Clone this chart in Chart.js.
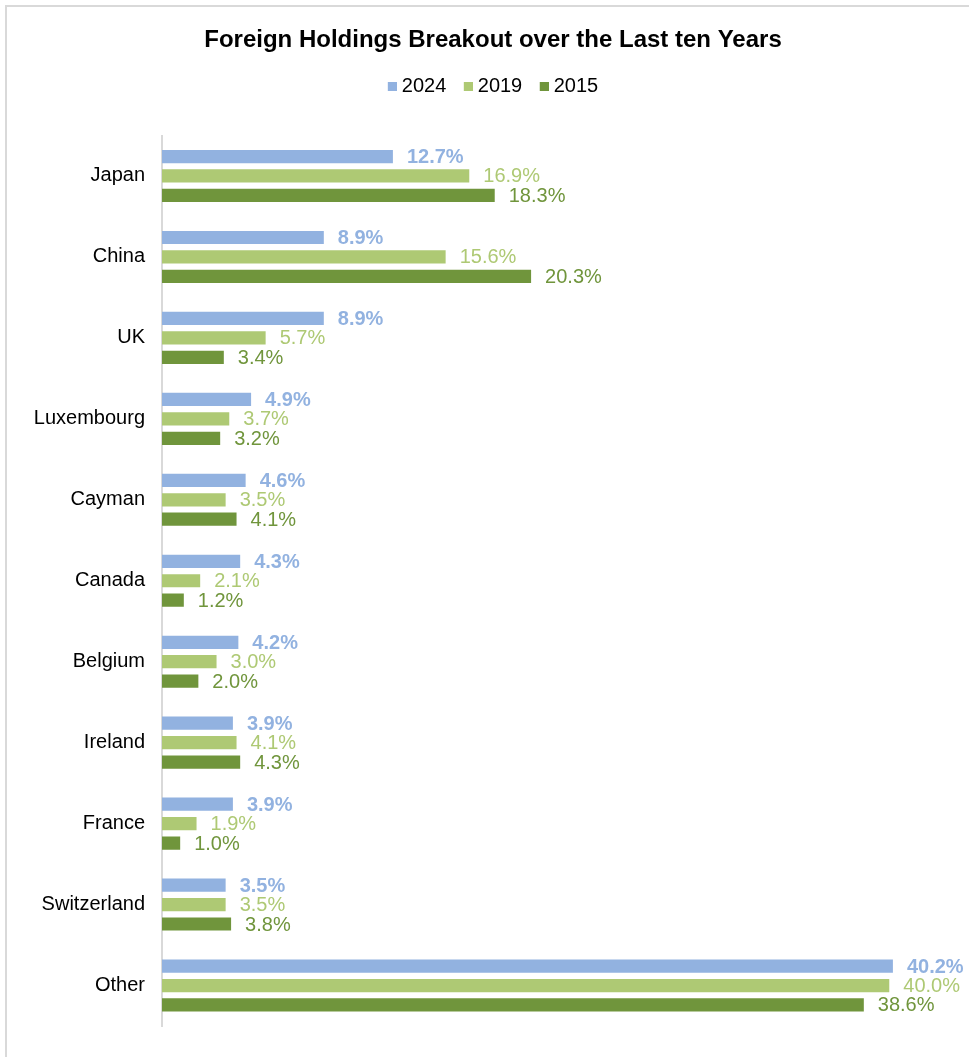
<!DOCTYPE html>
<html>
<head>
<meta charset="utf-8">
<script src="https://cdn.jsdelivr.net/npm/chart.js@4.4.1/dist/chart.umd.min.js"></script>
<style>
  html, body { margin: 0; padding: 0; background: #fff; overflow: hidden; width: 969px; height: 1057px; }
  #frame { position: fixed; left: 5px; top: 5px; width: 1200px; height: 1200px; border-left: 2px solid #d9d9d9; border-top: 2px solid #d9d9d9; }
  #c { position: absolute; left: 0; top: 0; }
</style>
</head>
<body>
<div id="frame"></div>
<canvas id="c" width="969" height="1057"></canvas>
<script>
const categories = ["Japan", "China", "UK", "Luxembourg", "Cayman", "Canada", "Belgium", "Ireland", "France", "Switzerland", "Other"];
const seriesNames = ["2024", "2019", "2015"];
const values2024 = [12.7, 8.9, 8.9, 4.9, 4.6, 4.3, 4.2, 3.9, 3.9, 3.5, 40.2];
const values2019 = [16.9, 15.6, 5.7, 3.7, 3.5, 2.1, 3.0, 4.1, 1.9, 3.5, 40.0];
const values2015 = [18.3, 20.3, 3.4, 3.2, 4.1, 1.2, 2.0, 4.3, 1.0, 3.8, 38.6];
const titleText = "Foreign Holdings Breakout over the Last ten Years";

const colors = ["#92b2e0", "#aec974", "#70953c"];
const labelBold = [true, false, false];
const FONT = "'Liberation Sans', Arial, sans-serif";

// legend marker: 9px square drawn at the right part of a 14px-wide canvas
function makeMarker(color) {
  const cv = document.createElement('canvas');
  cv.width = 14; cv.height = 9;
  const g = cv.getContext('2d');
  g.fillStyle = color;
  g.fillRect(5, 0, 9, 9);
  return cv;
}
const markers = colors.map(makeMarker);

const legendGap = {
  id: 'legendGap',
  beforeInit(chart) {
    const lg = chart.legend;
    if (!lg) return;
    const origFit = lg.fit;
    lg.fit = function () {
      origFit.call(this);
      this.height += 29;
    };
  }
};

const barLabels = {
  id: 'barLabels',
  afterDatasetsDraw(chart) {
    const ctx = chart.ctx;
    ctx.save();
    ctx.textAlign = 'left';
    ctx.textBaseline = 'middle';
    chart.data.datasets.forEach((ds, di) => {
      const meta = chart.getDatasetMeta(di);
      ctx.fillStyle = colors[di];
      ctx.font = (labelBold[di] ? 'bold ' : '') + '20px ' + FONT;
      meta.data.forEach((bar, i) => {
        const v = ds.data[i];
        ctx.fillText(v.toFixed(1) + '%', bar.x + 14, bar.y + 1);
      });
    });
    ctx.restore();
  }
};

new Chart(document.getElementById('c'), {
  type: 'bar',
  data: {
    labels: categories,
    datasets: [
      { label: seriesNames[0], data: values2024, backgroundColor: colors[0] },
      { label: seriesNames[1], data: values2019, backgroundColor: colors[1] },
      { label: seriesNames[2], data: values2015, backgroundColor: colors[2] }
    ]
  },
  options: {
    indexAxis: 'y',
    responsive: false,
    animation: false,
    barPercentage: 0.68,
    categoryPercentage: 0.72,
    layout: { padding: { left: 24, right: 7, top: 0, bottom: 31 } },
    plugins: {
      title: {
        display: true,
        text: titleText,
        color: '#000',
        font: { family: FONT, size: 24, weight: 'bold' },
        padding: { top: 25.6, bottom: 4.6 }
      },
      legend: {
        display: true,
        position: 'top',
        labels: {
          color: '#000',
          font: { family: FONT, size: 20 },
          usePointStyle: true,
          pointStyleWidth: 4,
          boxWidth: 4,
          boxHeight: 9,
          padding: 17.5,
          generateLabels(chart) {
            const items = Chart.defaults.plugins.legend.labels.generateLabels(chart);
            items.forEach((it, i) => { it.pointStyle = markers[i]; });
            return items;
          }
        }
      },
      tooltip: { enabled: false }
    },
    scales: {
      x: {
        display: false,
        min: 0,
        max: 44
      },
      y: {
        afterFit(scale) { scale.width = 138; },
        grid: { display: false, drawTicks: false },
        border: { display: true, color: '#d9d9d9', width: 2 },
        ticks: {
          color: '#000',
          padding: 17,
          font: { family: FONT, size: 20 }
        }
      }
    }
  },
  plugins: [legendGap, barLabels]
});
</script>
</body>
</html>
